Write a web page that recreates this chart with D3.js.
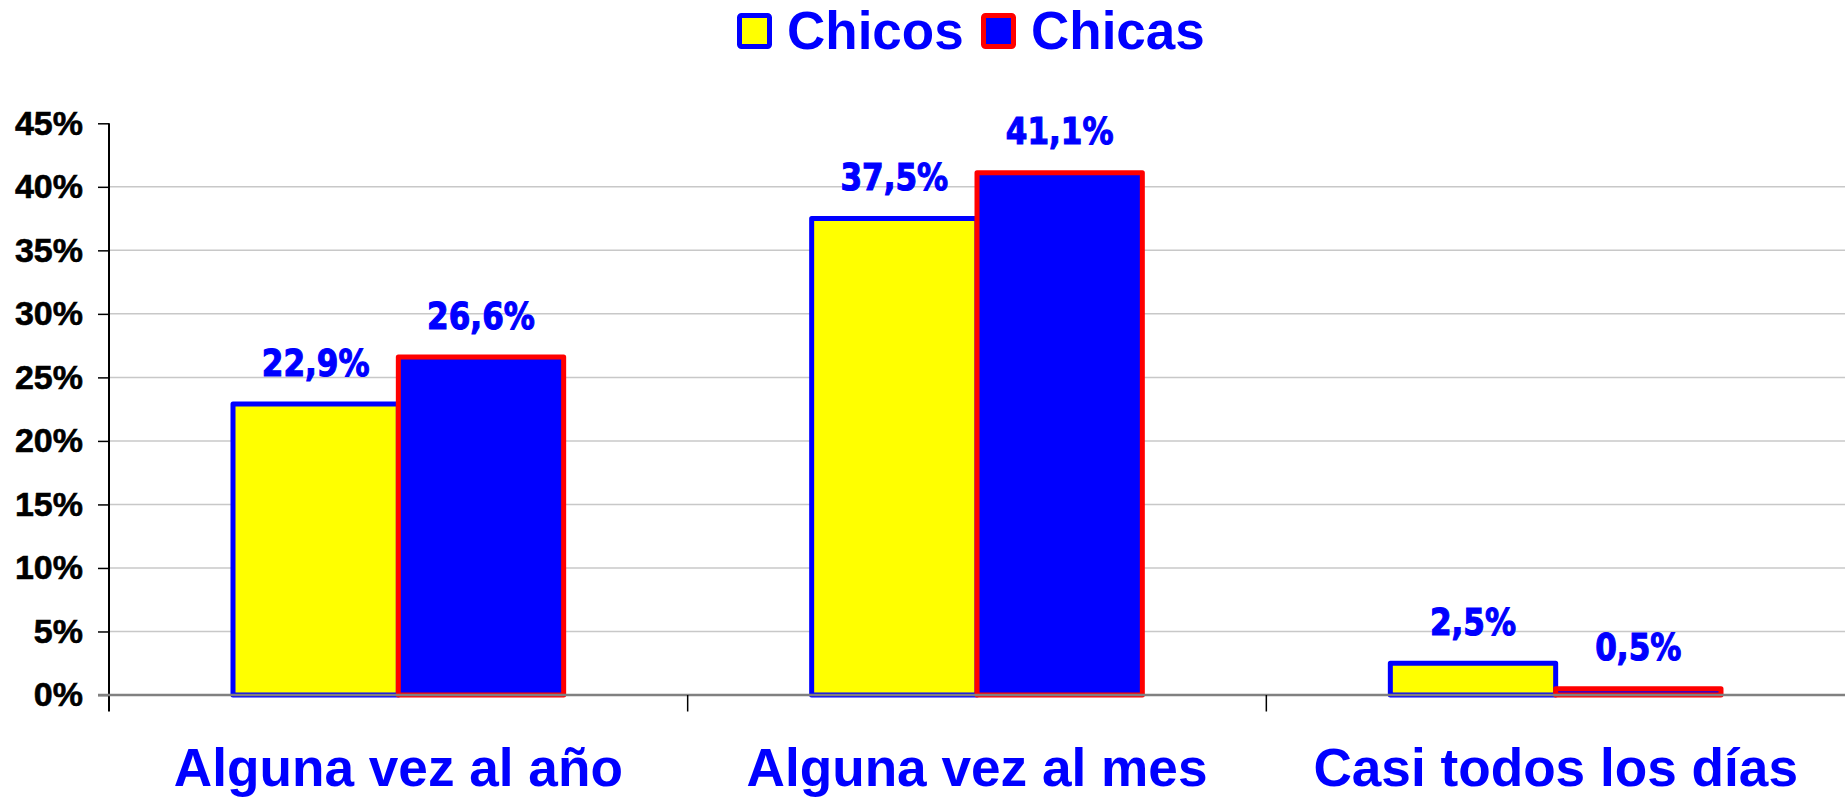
<!DOCTYPE html>
<html>
<head>
<meta charset="utf-8">
<script src="https://cdn.jsdelivr.net/npm/d3@7"></script>
<style>
  html, body { margin: 0; padding: 0; background: #fff; overflow: hidden; }
</style>
</head>
<body>
<script>
const categories = ["Alguna vez al año", "Alguna vez al mes", "Casi todos los días"];
const seriesNames = ["Chicos", "Chicas"];
const chicos = [22.9, 37.5, 2.5];
const chicas = [26.6, 41.1, 0.5];
const yTicks = [0, 5, 10, 15, 20, 25, 30, 35, 40, 45];

const width = 1845;
const height = 799;

const fills = ["#ffff00", "#0000ff"];
const strokes = ["#0000ff", "#ff0000"];

const svg = d3.select("body")
    .append("svg")
    .attr("width", width)
    .attr("height", height);

const x0 = d3.scaleBand()
    .domain(categories)
    .range([109, 1845])
    .paddingInner(0)
    .paddingOuter(0);

// 150% gap between groups, like the original spreadsheet chart
const barW = x0.bandwidth() / 3.5;

const y = d3.scaleLinear()
    .domain([0, 45])
    .range([695, 123.3]);

// gridlines (none on the top value)
svg.append("g")
    .selectAll("line")
    .data(yTicks.filter(d => d > 0 && d < 45))
    .enter().append("line")
    .attr("x1", 109)
    .attr("x2", width)
    .attr("y1", d => y(d))
    .attr("y2", d => y(d))
    .attr("stroke", "#c8c8c8")
    .attr("stroke-width", 1.5);

// y axis
const yAxis = d3.axisLeft(y)
    .tickValues(yTicks)
    .tickSize(11)
    .tickPadding(15)
    .tickFormat(d => d + "%");

const yg = svg.append("g")
    .attr("transform", "translate(109,0)")
    .call(yAxis);

yg.select(".domain").remove();
yg.selectAll(".tick line").attr("stroke", "#000").attr("stroke-width", 1.5);
yg.selectAll(".tick text")
    .attr("fill", "#000")
    .attr("stroke", "#000")
    .attr("stroke-width", 0.6)
    .style("font-family", "'Liberation Sans', Arial, sans-serif")
    .style("font-weight", "bold")
    .style("font-size", "34px");

yg.append("line")
    .attr("x1", 0).attr("x2", 0)
    .attr("y1", y(45)).attr("y2", 711.5)
    .attr("stroke", "#000")
    .attr("stroke-width", 2);

// bars
const series = [chicos, chicas];
const bars = svg.append("g");
series.forEach((vals, s) => {
    bars.selectAll(".bar" + s)
        .data(vals)
        .enter().append("rect")
        .attr("class", "bar" + s)
        .attr("x", (d, i) => x0(categories[i]) + barW * 0.75 + s * barW)
        .attr("y", d => y(d))
        .attr("width", barW)
        .attr("height", d => y(0) - y(d))
        .attr("fill", fills[s])
        .attr("stroke", strokes[s])
        .attr("stroke-width", 5)
        .attr("stroke-linejoin", "round");
});

// x axis line and category ticks
svg.append("line")
    .attr("x1", 98).attr("x2", width)
    .attr("y1", y(0)).attr("y2", y(0))
    .attr("stroke", "#808080")
    .attr("stroke-width", 2.5);

svg.append("g")
    .selectAll("line")
    .data(categories.slice(1))
    .enter().append("line")
    .attr("x1", d => x0(d)).attr("x2", d => x0(d))
    .attr("y1", y(0)).attr("y2", 711.5)
    .attr("stroke", "#000")
    .attr("stroke-width", 1.5);

// value labels
series.forEach((vals, s) => {
    svg.append("g")
        .selectAll("text")
        .data(vals)
        .enter().append("text")
        .attr("transform", (d, i) => {
            const cx = x0(categories[i]) + barW * 0.75 + s * barW + barW / 2;
            return `translate(${cx},${y(d) - 28.5}) scale(0.84,1)`;
        })
        .attr("text-anchor", "middle")
        .attr("fill", "#0000ff")
        .attr("stroke", "#0000ff")
        .attr("stroke-width", 1.2)
        .style("font-family", "'DejaVu Sans', Verdana, sans-serif")
        .style("font-weight", "bold")
        .style("font-size", "37px")
        .text(d => d.toFixed(1).replace(".", ",") + "%");
});

// category labels
svg.append("g")
    .selectAll("text")
    .data(categories)
    .enter().append("text")
    .attr("transform", d => `translate(${x0(d) + x0.bandwidth() / 2},786) scale(0.985,1)`)
    .attr("text-anchor", "middle")
    .attr("fill", "#0000ff")
    .style("font-family", "'Liberation Sans', Arial, sans-serif")
    .style("font-weight", "bold")
    .style("font-size", "54px")
    .text(d => d);

// legend
const legendX = [737, 981];
const legend = svg.append("g");
seriesNames.forEach((name, s) => {
    legend.append("rect")
        .attr("x", legendX[s] + 2.5)
        .attr("y", 15.5)
        .attr("width", 30)
        .attr("height", 31)
        .attr("rx", 2)
        .attr("fill", fills[s])
        .attr("stroke", strokes[s])
        .attr("stroke-width", 5);
    legend.append("text")
        .attr("x", legendX[s] + 50)
        .attr("y", 49)
        .attr("fill", "#0000ff")
        .style("font-family", "'Liberation Sans', Arial, sans-serif")
        .style("font-weight", "bold")
        .style("font-size", "53px")
        .text(name);
});
</script>
</body>
</html>
